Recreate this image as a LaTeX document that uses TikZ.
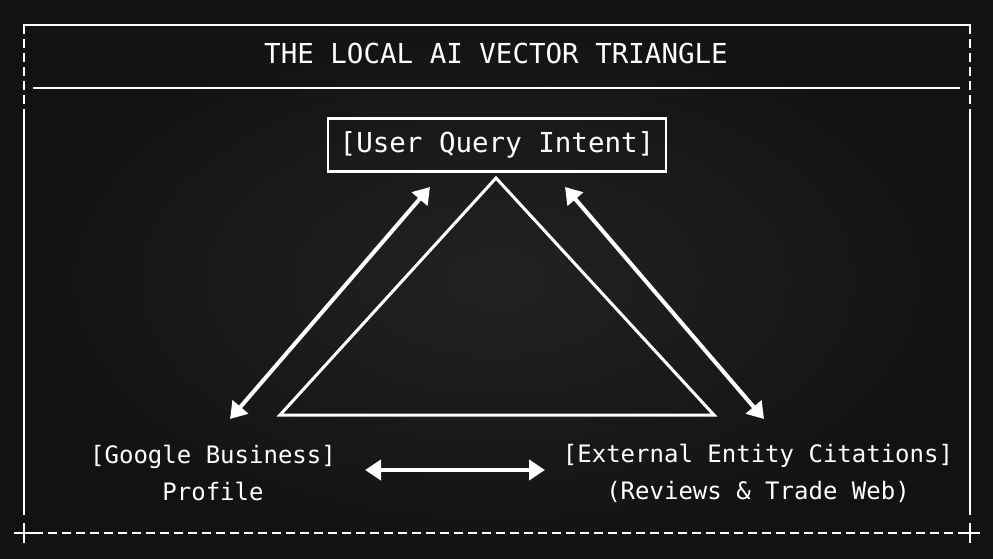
\documentclass[tikz,border=0pt]{standalone}
\usepackage{fontspec}
\setmonofont{DejaVu Sans Mono}
\usetikzlibrary{arrows.meta,positioning}
\definecolor{bgdark}{HTML}{121212}
\definecolor{bgmid}{HTML}{222222}
\tikzset{
  frame/.style={white,line width=2.2pt},
  dashframe/.style={frame,dash pattern=on 9pt off 5pt},
  link/.style={white,line width=4pt,{Triangle[length=16pt,width=20pt]}-{Triangle[length=16pt,width=20pt]}},
  label/.style={text=white,font=\ttfamily\fontsize{24}{37}\selectfont,align=center},
  heading/.style={text=white,font=\ttfamily\fontsize{27.5}{33}\selectfont}
}
\begin{document}
\begin{tikzpicture}[x=1pt,y=-1pt]
\shade[inner color=bgmid,outer color=bgdark] (0,0) rectangle (993,559);
\useasboundingbox (0,0) rectangle (993,559);

% outer frame
\draw[frame] (23,25) -- (971,25);
\draw[dashframe] (24,25) -- (24,118);
\draw[dashframe] (970,25) -- (970,118);
\draw[frame] (24,112) -- (24,515);
\draw[frame] (970,112) -- (970,515);
\draw[dashframe] (34,533) -- (962,533);
\draw[frame] (14,533) -- (34,533) (24,523) -- (24,543);
\draw[frame] (960,533) -- (980,533) (970,523) -- (970,543);
\draw[frame] (33,88) -- (960,88);

\node[heading] (title) at (496,53) {THE LOCAL AI VECTOR TRIANGLE};

% nodes
\node[heading,draw=white,line width=2.5pt,minimum width=338pt,minimum height=53pt] (query) at (497,145) {[User Query Intent]};
\node[label] (gbp) at (213,473) {[Google Business]\\Profile};
\node[label] (ext) at (758,473) {[External Entity Citations]\\(Reviews \& Trade Web)};

% triangle
\coordinate (apex) at (496,178);
\coordinate (bl) at (280,415);
\coordinate (br) at (714,415);
\draw[white,line width=3pt,line join=miter] (apex) -- (br) -- (bl) -- cycle;

% links
\coordinate (lq) at (430,187);
\coordinate (lg) at (230,419);
\coordinate (rq) at (565,187);
\coordinate (re) at (764,419);
\coordinate (bg) at (365,470);
\coordinate (be) at (545,470);
\draw[link] (lg) -- (lq);
\draw[link] (rq) -- (re);
\draw[link] (bg) -- (be);
\end{tikzpicture}
\end{document}
